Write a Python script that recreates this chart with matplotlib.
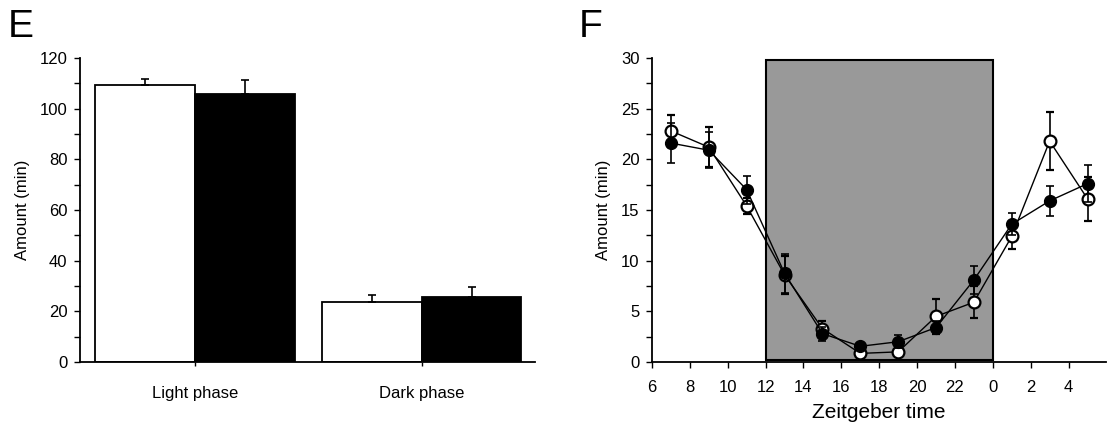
import numpy as np
import matplotlib
matplotlib.use("Agg")
import matplotlib.pyplot as plt
from matplotlib.ticker import MultipleLocator
from matplotlib.patches import Rectangle

plt.rcParams['font.family'] = ['Liberation Sans', 'DejaVu Sans']

# panel E: total amount per phase
phases = ["Light phase", "Dark phase"]
white_vals = [109.2, 23.8]
white_err = [2.4, 2.8]
black_vals = [105.6, 25.8]
black_err = [5.8, 3.7]

# panel F: hourly amount, Zeitgeber time (7 ... 29 == 5)
zt = [7, 9, 11, 13, 15, 17, 19, 21, 23, 25, 27, 29]
zt_ticks = [6, 8, 10, 12, 14, 16, 18, 20, 22, 24, 26, 28]
zt_labels = ["6", "8", "10", "12", "14", "16", "18", "20", "22", "0", "2", "4"]
open_vals = [22.8, 21.2, 15.4, 8.6, 3.3, 0.85, 1.0, 4.5, 5.9, 12.4, 21.8, 16.1]
open_err = [1.6, 2.0, 0.8, 1.9, 0.7, 0.3, 0.4, 1.7, 1.6, 1.2, 2.9, 2.2]
filled_vals = [21.6, 20.9, 17.0, 8.75, 2.8, 1.55, 2.0, 3.4, 8.1, 13.6, 15.9, 17.6]
filled_err = [2.0, 1.8, 1.4, 1.9, 0.7, 0.3, 0.65, 0.6, 1.4, 1.1, 1.5, 1.8]
dark_start, dark_end = 12, 24

fig = plt.figure(figsize=(11.07, 4.45), dpi=100)
axE = fig.add_axes([0.0723, 0.1865, 0.411, 0.6832])
axF = fig.add_axes([0.589, 0.1865, 0.4105, 0.6832])

for ax in (axE, axF):
    ax.spines['top'].set_visible(False)
    ax.spines['right'].set_visible(False)
    ax.spines['left'].set_linewidth(1.3)
    ax.spines['bottom'].set_linewidth(1.3)
    ax.tick_params(direction='out', labelsize=12, width=1, length=4)
    ax.tick_params(which='minor', direction='out', width=1, length=4)

# --- E ---
x = np.arange(len(phases))
w = 0.44
axE.bar(x - w / 2, white_vals, w, color='white', edgecolor='black', linewidth=1.3,
        yerr=[[0] * 2, white_err], error_kw=dict(ecolor='black', elinewidth=1.2, capsize=3, capthick=1.2))
axE.bar(x + w / 2, black_vals, w, color='black', edgecolor='black', linewidth=1.3,
        yerr=[[0] * 2, black_err], error_kw=dict(ecolor='black', elinewidth=1.2, capsize=3, capthick=1.2))
axE.set_xlim(-0.507, 1.5)
axE.set_ylim(0, 120)
axE.set_xticks(x)
axE.set_xticklabels(phases)
axE.tick_params(axis='x', pad=14, length=3)
axE.yaxis.set_major_locator(MultipleLocator(20))
axE.yaxis.set_minor_locator(MultipleLocator(10))
axE.tick_params(axis='y', pad=5)
axE.set_ylabel("Amount (min)", fontsize=12, labelpad=7)
fig.text(0.0072, 0.916, "E", fontsize=28, va='baseline')

# --- F ---
axF.add_patch(Rectangle((dark_start, 0.2), dark_end - dark_start, 29.6,
                        facecolor='#999999', edgecolor='black', linewidth=1.5, zorder=1))
axF.errorbar(zt, open_vals, yerr=open_err, fmt='-o', color='black', mfc='white', mec='black',
             mew=1.6, ms=8.5, lw=1, elinewidth=1.2, capsize=3, capthick=1.2, zorder=3)
axF.errorbar(zt, filled_vals, yerr=filled_err, fmt='-o', color='black', mfc='black', mec='black',
             ms=8.5, lw=1, elinewidth=1.2, capsize=3, capthick=1.2, zorder=4)
axF.set_xlim(6, 30)
axF.set_ylim(0, 30)
axF.set_xticks(zt_ticks)
axF.set_xticklabels(zt_labels)
axF.tick_params(axis='x', pad=9)
axF.yaxis.set_major_locator(MultipleLocator(5))
axF.yaxis.set_minor_locator(MultipleLocator(2.5))
axF.tick_params(axis='y', pad=5)
axF.set_ylabel("Amount (min)", fontsize=12, labelpad=7)
axF.set_xlabel("Zeitgeber time", fontsize=15, labelpad=6)
fig.text(0.523, 0.916, "F", fontsize=28, va='baseline')

fig.savefig("out.png", dpi=100)
